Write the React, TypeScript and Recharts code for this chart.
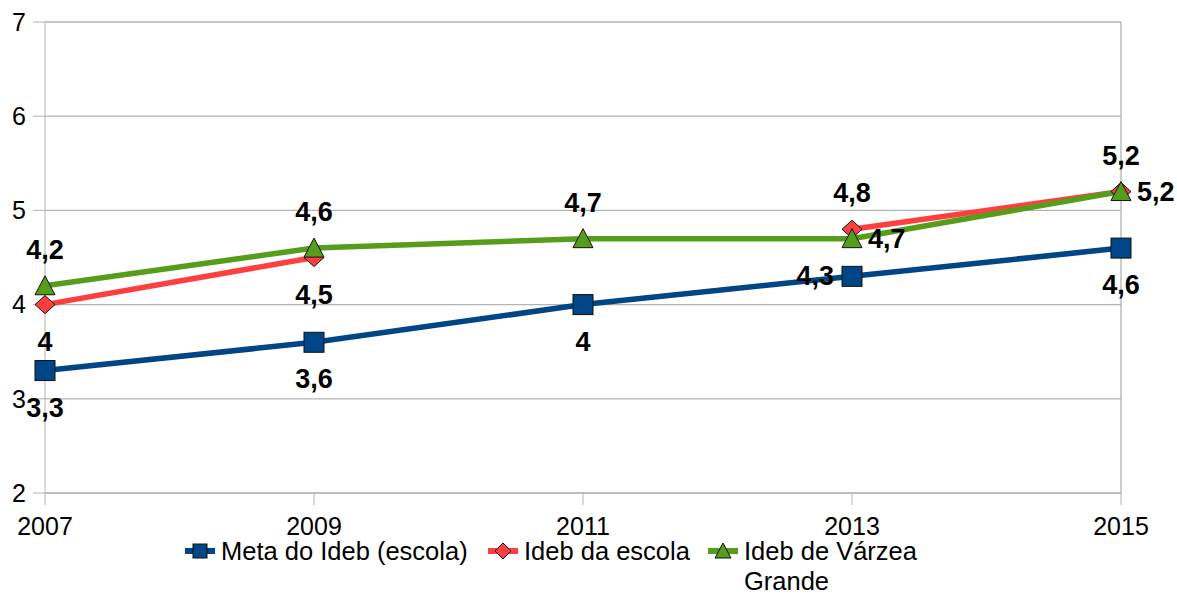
import React from "react";
import {
  LineChart,
  Line,
  XAxis,
  YAxis,
  CartesianGrid,
  Legend,
  LabelList,
  ReferenceLine,
} from "recharts";

const years = ["2007", "2009", "2011", "2013", "2015"];
const metaIdeb = [3.3, 3.6, 4.0, 4.3, 4.6];
const idebEscola: (number | null)[] = [4.0, 4.5, null, 4.8, 5.2];
const idebVarzea = [4.2, 4.6, 4.7, 4.7, 5.2];
const yTicks = [2, 3, 4, 5, 6, 7];

const seriesNames = ["Meta do Ideb (escola)", "Ideb da escola", "Ideb de Várzea Grande"];
const colors = ["#004586", "#ff3f3f", "#579d1c"];

// label placement (style config)
const metaPlace = ["below", "below", "below", "left", "below"];
const escolaPlace = ["below", "below", "below", "above", "above"];
const varzeaPlace = ["above", "above", "above", "right", "right"];

const data = years.map((y, i) => ({
  year: y,
  meta: metaIdeb[i],
  escola: idebEscola[i],
  varzea: idebVarzea[i],
}));

const FONT = "'Liberation Sans', Arial, sans-serif";

const fmt = (v: number) => String(v).replace(".", ",");

const makeLabel = (places: string[]) => (props: any) => {
  const { x, y, value, index } = props;
  if (value === null || value === undefined) return null;
  const p = places[index];
  let tx = x;
  let ty = y;
  let anchor: "middle" | "start" | "end" = "middle";
  if (p === "below") ty = y + 37;
  else if (p === "above") ty = y - 36;
  else if (p === "left") {
    tx = x - 18;
    anchor = "end";
  } else if (p === "right") {
    tx = x + 16;
    anchor = "start";
  }
  return (
    <text
      x={tx}
      y={ty}
      textAnchor={anchor}
      dominantBaseline="central"
      fontFamily={FONT}
      fontWeight="bold"
      fontSize={27}
      fill="#000"
    >
      {fmt(value)}
    </text>
  );
};

const SquareDot = (props: any) => {
  const { cx, cy, index } = props;
  if (cx == null || cy == null) return <g key={`s${index}`} />;
  return (
    <rect
      key={`s${index}`}
      x={cx - 10}
      y={cy - 10}
      width={20}
      height={20}
      fill={colors[0]}
      stroke="#111"
      strokeWidth={1}
    />
  );
};

const DiamondDot = (props: any) => {
  const { cx, cy, index, value } = props;
  if (cx == null || cy == null || value == null) return <g key={`d${index}`} />;
  return (
    <polygon
      key={`d${index}`}
      points={`${cx},${cy - 9} ${cx + 10},${cy} ${cx},${cy + 9} ${cx - 10},${cy}`}
      fill={colors[1]}
      stroke="#111"
      strokeWidth={1}
    />
  );
};

const TriangleDot = (props: any) => {
  const { cx, cy, index } = props;
  if (cx == null || cy == null) return <g key={`t${index}`} />;
  return (
    <polygon
      key={`t${index}`}
      points={`${cx},${cy - 10} ${cx + 10},${cy + 9} ${cx - 10},${cy + 9}`}
      fill={colors[2]}
      stroke="#111"
      strokeWidth={1}
    />
  );
};

const LegendIcon = ({ kind, color }: { kind: number; color: string }) => (
  <svg width={32} height={20} style={{ flex: "none" }}>
    <line x1={1} y1={10} x2={31} y2={10} stroke={color} strokeWidth={6} />
    {kind === 0 && (
      <rect x={9} y={3} width={14} height={14} fill={color} stroke="#111" strokeWidth={1} />
    )}
    {kind === 1 && (
      <polygon points="16,2 24,10 16,18 8,10" fill={color} stroke="#111" strokeWidth={1} />
    )}
    {kind === 2 && (
      <polygon points="16,2 24,17 8,17" fill={color} stroke="#111" strokeWidth={1} />
    )}
  </svg>
);

const CustomLegend = () => (
  <div
    style={{
      width: 1177,
      height: 60,
      position: "relative",
      fontFamily: FONT,
      fontSize: 25.5,
      color: "#000",
    }}
  >
    <div style={{ position: "absolute", left: 184, top: 2, display: "flex", alignItems: "center" }}>
      <LegendIcon kind={0} color={colors[0]} />
      <span style={{ marginLeft: 5, lineHeight: "30px", whiteSpace: "nowrap" }}>{seriesNames[0]}</span>
    </div>
    <div style={{ position: "absolute", left: 487, top: 2, display: "flex", alignItems: "center" }}>
      <LegendIcon kind={1} color={colors[1]} />
      <span style={{ marginLeft: 5, lineHeight: "30px", whiteSpace: "nowrap" }}>{seriesNames[1]}</span>
    </div>
    <div style={{ position: "absolute", left: 707, top: 2, display: "flex", alignItems: "flex-start" }}>
      <div style={{ height: 30, display: "flex", alignItems: "center" }}>
        <LegendIcon kind={2} color={colors[2]} />
      </div>
      <span style={{ marginLeft: 5, lineHeight: "30px", width: 190, display: "block" }}>
        {seriesNames[2]}
      </span>
    </div>
  </div>
);

export default function App() {
  return (
    <div style={{ position: "absolute", left: 0, top: 0, width: 1177, height: 594, background: "#fff" }}>
      <LineChart
        width={1177}
        height={594}
        data={data}
        margin={{ top: 22, right: 56, bottom: 0, left: 0 }}
      >
        <CartesianGrid vertical={false} stroke="#b3b3b3" strokeWidth={1.3} />
        <ReferenceLine x="2015" stroke="#b3b3b3" strokeWidth={1.3} />
        <XAxis
          dataKey="year"
          height={41}
          padding={{ left: 0, right: 0 }}
          stroke="#b3b3b3"
          tickSize={12}
          tickMargin={12}
          tick={{ fill: "#000", fontSize: 25, fontFamily: FONT }}
          interval={0}
        />
        <YAxis
          width={45}
          domain={[2, 7]}
          ticks={yTicks}
          stroke="#b3b3b3"
          tickSize={12}
          tickMargin={7}
          tick={{ fill: "#000", fontSize: 25, fontFamily: FONT }}
          allowDataOverflow
        />
        <Legend verticalAlign="bottom" height={60} content={<CustomLegend />} />
        <Line
          type="linear"
          dataKey="meta"
          name={seriesNames[0]}
          stroke={colors[0]}
          strokeWidth={5.5}
          dot={SquareDot}
          activeDot={false}
          isAnimationActive={false}
        >
          <LabelList dataKey="meta" content={makeLabel(metaPlace)} />
        </Line>
        <Line
          type="linear"
          dataKey="escola"
          name={seriesNames[1]}
          stroke={colors[1]}
          strokeWidth={5.5}
          dot={DiamondDot}
          activeDot={false}
          isAnimationActive={false}
        >
          <LabelList dataKey="escola" content={makeLabel(escolaPlace)} />
        </Line>
        <Line
          type="linear"
          dataKey="varzea"
          name={seriesNames[2]}
          stroke={colors[2]}
          strokeWidth={5.5}
          dot={TriangleDot}
          activeDot={false}
          isAnimationActive={false}
        >
          <LabelList dataKey="varzea" content={makeLabel(varzeaPlace)} />
        </Line>
      </LineChart>
    </div>
  );
}
